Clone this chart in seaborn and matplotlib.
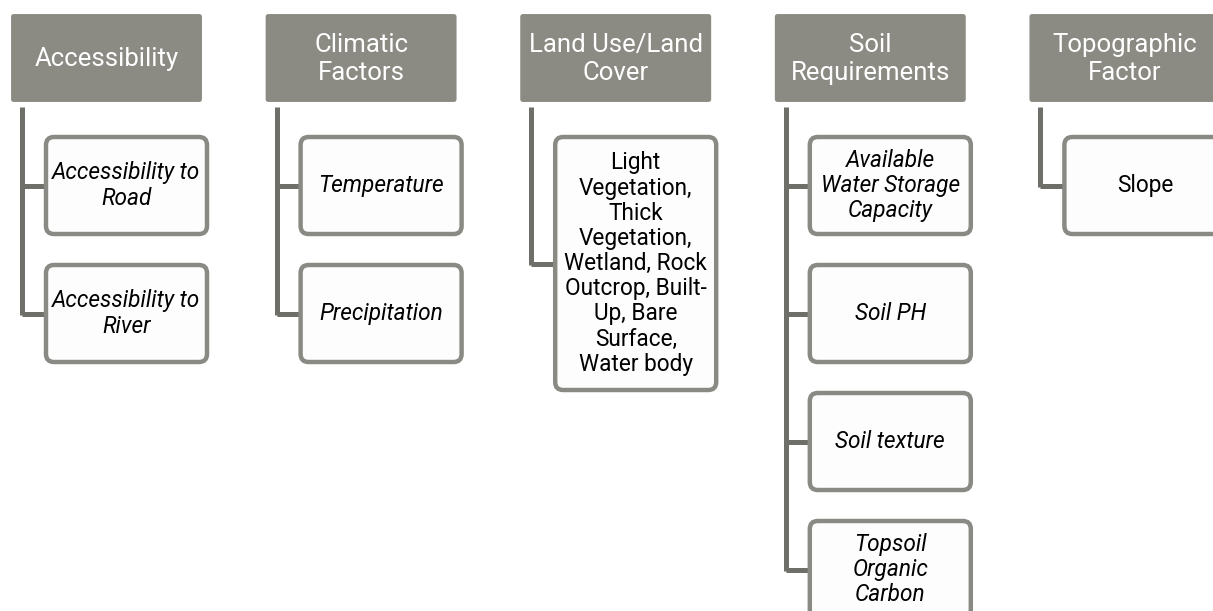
import matplotlib.pyplot as plt
import seaborn as sns
from matplotlib.patches import FancyBboxPatch

# hierarchy content
headers = ["Accessibility", "Climatic\nFactors", "Land Use/Land\nCover",
           "Soil\nRequirements", "Topographic\nFactor"]
children = [
    ["Accessibility to\nRoad", "Accessibility to\nRiver"],
    ["Temperature", "Precipitation"],
    ["Light\nVegetation,\nThick\nVegetation,\nWetland, Rock\nOutcrop, Built-\nUp, Bare\nSurface,\nWater body"],
    ["Available\nWater Storage\nCapacity", "Soil PH", "Soil texture", "Topsoil\nOrganic\nCarbon"],
    ["Slope"],
]
italic_children = [True, True, False, True, False]

# layout (pixels)
W, H = 1213, 611
col_x0, col_pitch = 10, 254.6
head_w, head_y0, head_h = 193, 13, 90
child_dx, child_w, child_h = 36, 161, 97
child_y0, child_pitch = 137, 128
tall_h = 253
head_col = "#8b8b84"
line_col = "#6f6f6a"
edge_col = "#8a8a84"

sns.set_style("white")
plt.rcParams["font.family"] = ["Roboto", "DejaVu Sans"]

fig = plt.figure(figsize=(W / 100, H / 100), dpi=100)
ax = fig.add_axes([0, 0, 1, 1])
ax.set_xlim(0, W)
ax.set_ylim(H, 0)
ax.axis("off")

for i, (head, kids) in enumerate(zip(headers, children)):
    x0 = col_x0 + i * col_pitch
    ax.add_patch(FancyBboxPatch((x0, head_y0), head_w, head_h,
                                boxstyle="round,pad=0,rounding_size=4",
                                fc=head_col, ec="white", lw=1.5, zorder=2))
    ax.text(x0 + head_w / 2, head_y0 + head_h / 2 + 1, head, color="white",
            fontsize=18.5, ha="center", va="center", linespacing=1.25, zorder=3)

    cx = x0 + child_dx
    lx = x0 + 12
    centers = []
    for j, kid in enumerate(kids):
        h = tall_h if len(kids) == 1 and kid.count("\n") > 4 else child_h
        y = child_y0 + j * child_pitch
        centers.append(y + h / 2)
        ax.add_patch(FancyBboxPatch((cx, y), child_w, h,
                                    boxstyle="round,pad=0,rounding_size=8",
                                    fc="#fdfdfd", ec=edge_col, lw=3.2, zorder=2))
        ax.text(cx + child_w / 2, y + h / 2, kid, color="black", fontsize=16.3,
                style="italic" if italic_children[i] else "normal",
                ha="center", va="center", linespacing=1.12, zorder=3)
        ax.plot([lx, cx], [y + h / 2, y + h / 2], color=line_col, lw=3.6,
                solid_capstyle="butt", zorder=1)
    ax.plot([lx, lx], [head_y0 + head_h + 4, centers[-1] + 1.8], color=line_col,
            lw=3.6, solid_capstyle="butt", zorder=1)

fig.savefig("out.png", dpi=100, facecolor="white")
